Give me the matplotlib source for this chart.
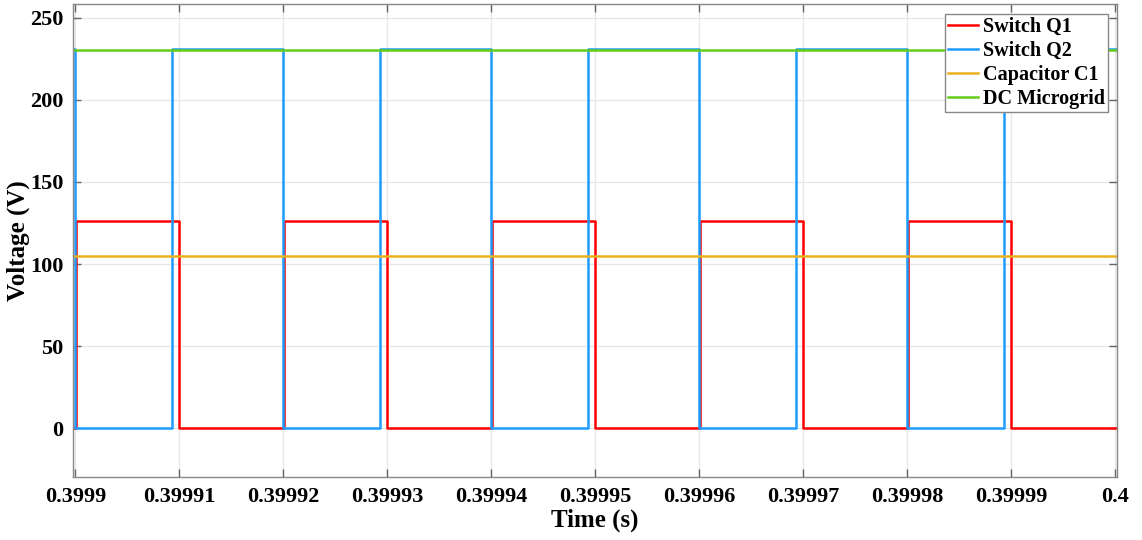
import numpy as np
import matplotlib.pyplot as plt
from matplotlib.ticker import MultipleLocator, FuncFormatter

# switching waveforms as step points (time [s], voltage [V])
q1_t = [0.39989, 0.3999001, 0.39991, 0.3999201, 0.39993, 0.3999401, 0.39995,
        0.3999601, 0.39997, 0.3999801, 0.39999, 0.40001]
q1_v = [0, 126, 0, 126, 0, 126, 0, 126, 0, 126, 0, 0]

q2_t = [0.39989, 0.3999, 0.3999093, 0.39992, 0.3999293, 0.39994, 0.3999493,
        0.39996, 0.3999693, 0.39998, 0.3999893, 0.40001]
q2_v = [231, 0, 231, 0, 231, 0, 231, 0, 231, 0, 231, 231]

c1_t = [0.39989, 0.40001]
c1_v = [105, 105]

dc_t = [0.39989, 0.40001]
dc_v = [230, 230]

plt.rcParams['font.family'] = ['Liberation Serif', 'DejaVu Serif']
plt.rcParams['font.weight'] = 'bold'

fig = plt.figure(figsize=(11.42, 5.40), dpi=100)
ax = fig.add_axes([0.0642, 0.1167, 0.9138, 0.875])

lw = 1.8
ax.step(q1_t, q1_v, where='post', color='#ff0000', lw=lw, label='Switch Q1')
ax.step(q2_t, q2_v, where='post', color='#1e9bff', lw=lw, label='Switch Q2')
ax.plot(c1_t, c1_v, color='#edb120', lw=lw, label='Capacitor C1')
ax.plot(dc_t, dc_v, color='#66cc1a', lw=lw, label='DC Microgrid')

ax.set_xlim(0.39989981, 0.40000016)
ax.set_ylim(-29.5, 258)
ax.xaxis.set_major_locator(MultipleLocator(1e-5))
ax.xaxis.set_major_formatter(FuncFormatter(lambda v, p: f'{v:.5f}'.rstrip('0')))
ax.set_yticks([0, 50, 100, 150, 200, 250])

ax.grid(True, color='#e6e6e6', lw=0.9)
ax.set_axisbelow(True)
for s in ax.spines.values():
    s.set_color('#888888')
    s.set_linewidth(1.0)
ax.tick_params(direction='in', length=6, width=1.0, color='#666666',
               top=True, right=True, labelsize=16, pad=7)
for lab in ax.get_xticklabels() + ax.get_yticklabels():
    lab.set_fontweight('bold')

ax.set_xlabel('Time (s)', fontsize=18, fontweight='bold', labelpad=1)
ax.set_ylabel('Voltage (V)', fontsize=18, fontweight='bold', labelpad=0)

leg = ax.legend(loc='upper right', fontsize=14.5, handlelength=1.5,
                handletextpad=0.25, labelspacing=0.2, borderpad=0.15,
                borderaxespad=0.45, fancybox=False, framealpha=1)
leg.get_frame().set_edgecolor('#888888')
leg.get_frame().set_linewidth(1.0)
for t in leg.get_texts():
    t.set_fontweight('bold')

fig.savefig('out.png', dpi=100)
